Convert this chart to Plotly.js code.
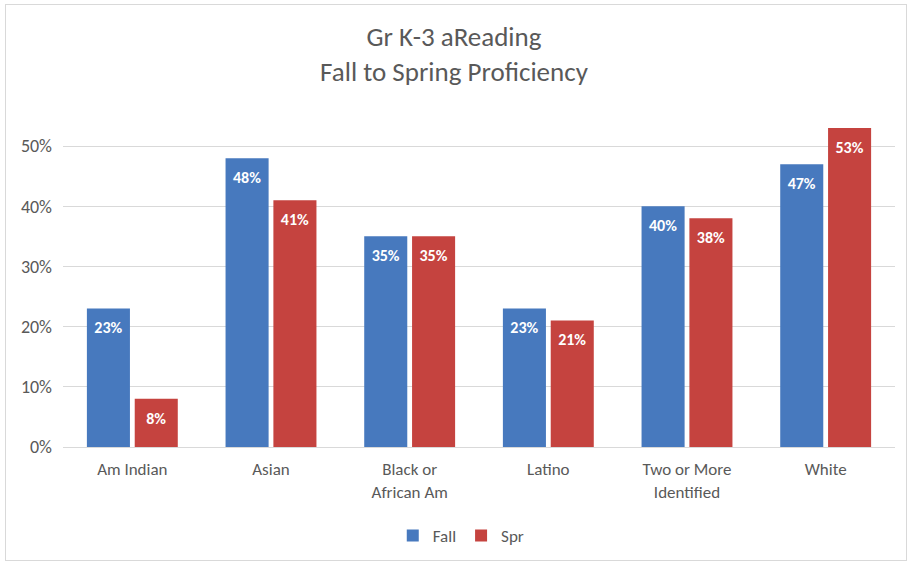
<!DOCTYPE html>
<html><head><meta charset="utf-8">
<script src="https://cdn.plot.ly/plotly-3.0.1.min.js"></script>
<style>
html,body{margin:0;padding:0;background:#fff;}
#wrap{position:relative;width:908px;height:564px;}
#chart{position:absolute;left:0;top:0;width:908px;height:564px;}
#frame{position:absolute;left:5px;top:4px;width:902px;height:557px;border:1px solid #d9d9d9;box-sizing:border-box;pointer-events:none;}
</style>
</head><body>
<div id="wrap"><div id="chart"></div><div id="frame"></div></div>
<script>
const categories = ["Am Indian", "Asian", "Black or<br>African Am", "Latino", "Two or More<br>Identified", "White"];
const fallValues = [0.23, 0.48, 0.35, 0.23, 0.40, 0.47];
const sprValues = [0.08, 0.41, 0.35, 0.21, 0.38, 0.53];
const seriesNames = ["Fall", "Spr"];
const yTickVals = [0, 0.1, 0.2, 0.3, 0.4, 0.5];
const yTickText = ["0%", "10%", "20%", "30%", "40%", "50%"];

const font = "Carlito, 'Open Sans', 'Liberation Sans', sans-serif";
const mk = (name, vals, color) => ({
  type: 'bar', name: name, x: categories, y: vals,
  marker: {color: color},
  texttemplate: "<span style='font-size:1px'>&nbsp;</span><br>%{y:.0%}", textposition: 'inside', insidetextanchor: 'end',
  textangle: 0,
  insidetextfont: {color: '#ffffff', size: 16, family: font, weight: 'bold'},
  hoverinfo: 'skip'
});
const data = [mk(seriesNames[0], fallValues, '#4779be'), mk(seriesNames[1], sprValues, '#c5433f')];
const layout = {
  width: 908, height: 564,
  margin: {l: 63, r: 13, t: 116, b: 117},
  paper_bgcolor: '#ffffff', plot_bgcolor: '#ffffff',
  title: {text: 'Gr K-3 aReading<br>Fall to Spring Proficiency', x: 0.5, xref: 'container', xanchor: 'center',
          y: 1 - 46/564, yref: 'container', yanchor: 'middle',
          font: {family: font, size: 27, color: '#595959'}},
  barmode: 'group', bargap: 0.31, bargroupgap: 0.1,
  xaxis: {tickfont: {family: font, size: 17, color: '#595959'}, showline: true, linecolor: '#d9d9d9', ticks: '', showgrid: false, ticklabelstandoff: 7},
  yaxis: {range: [0, 0.55], tickvals: yTickVals, ticktext: yTickText, showgrid: true, gridcolor: '#d9d9d9',
          zeroline: false, tickfont: {family: font, size: 18, color: '#595959'}, ticks: '', ticklabelstandoff: 10},
  showlegend: true,
  legend: {orientation: 'h', x: 0.508, xanchor: 'center', xref: 'container', y: 1 - 536/564, yref: 'container', yanchor: 'middle',
           font: {family: font, size: 17, color: '#595959'}, itemwidth: 30, traceorder: 'normal'},
  font: {family: font}
};
Plotly.newPlot('chart', data, layout, {displayModeBar: false, staticPlot: true});
</script>
</body></html>
